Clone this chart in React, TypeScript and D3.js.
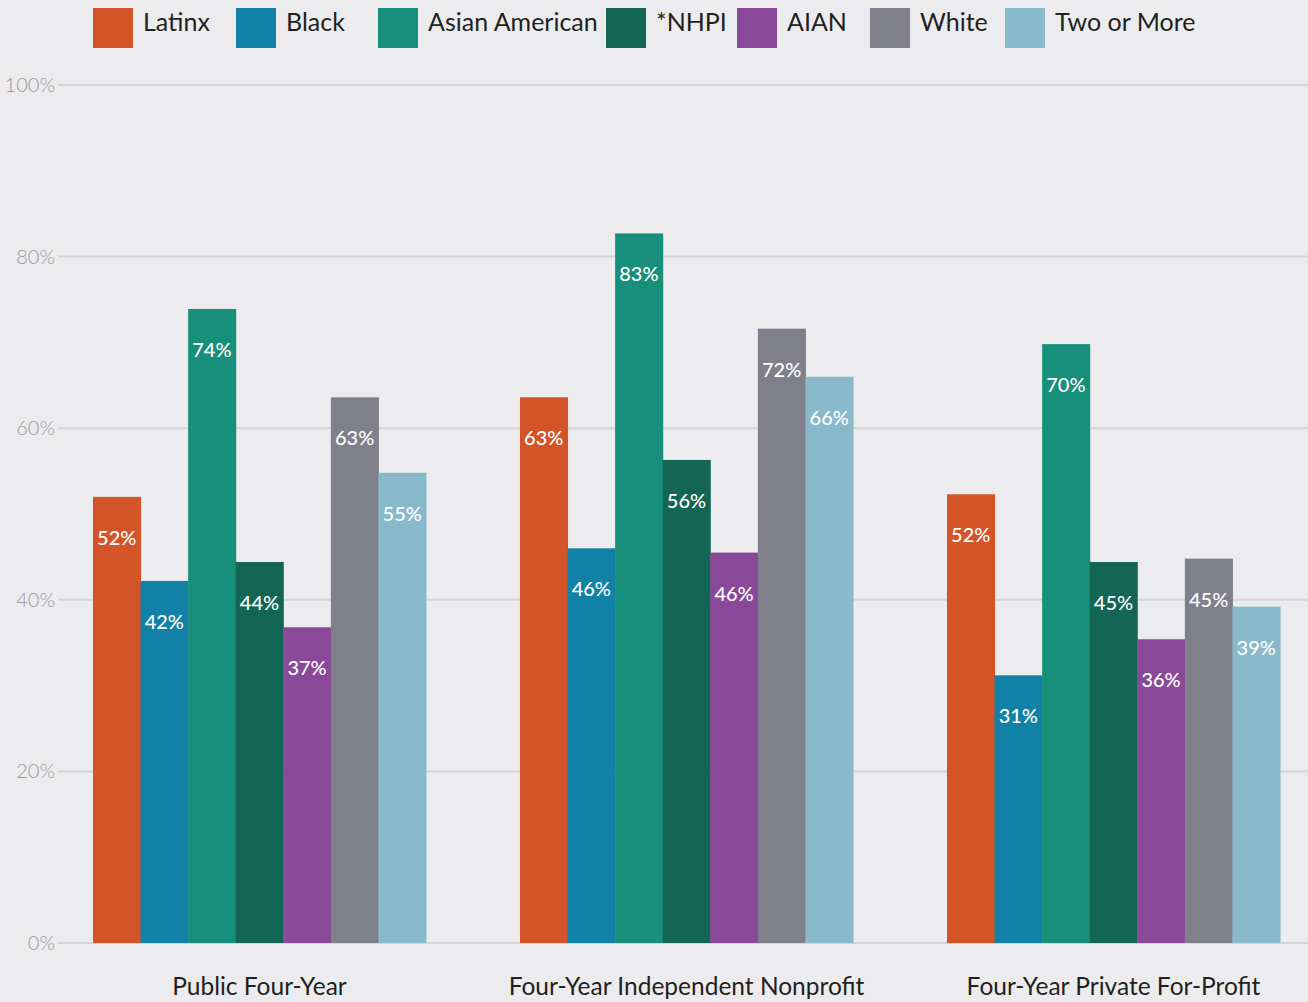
import React from "react";
import * as d3 from "d3";

const categories = ["Public Four-Year", "Four-Year Independent Nonprofit", "Four-Year Private For-Profit"];
const seriesNames = ["Latinx", "Black", "Asian American", "*NHPI", "AIAN", "White", "Two or More"];
const seriesColors = ["#d35428", "#1181a8", "#188f7a", "#136556", "#8a4898", "#7f808b", "#89bacb"];
const latinx = [52.0, 63.6, 52.3];
const black = [42.2, 46.0, 31.2];
const asianAmerican = [73.9, 82.7, 69.8];
const nhpi = [44.4, 56.3, 44.4];
const aian = [36.8, 45.5, 35.4];
const white = [63.6, 71.6, 44.8];
const twoOrMore = [54.8, 66.0, 39.2];
const labels = [
  ["52%", "63%", "52%"],
  ["42%", "46%", "31%"],
  ["74%", "83%", "70%"],
  ["44%", "56%", "45%"],
  ["37%", "46%", "36%"],
  ["63%", "72%", "45%"],
  ["55%", "66%", "39%"],
];
const yTicks = [0, 20, 40, 60, 80, 100];

const series = [latinx, black, asianAmerican, nhpi, aian, white, twoOrMore];

const W = 1308;
const H = 1002;
const legendX = [93, 236, 378, 606, 737, 870, 1005];
const FONT = "Lato, 'Open Sans', sans-serif";

export default function App() {
  const x0 = d3.scaleBand<string>().domain(categories).range([46, 1327]).paddingInner(0.22).paddingOuter(0.11);
  const x1 = d3.scaleBand<string>().domain(seriesNames).range([0, x0.bandwidth()]).padding(0);
  const y = d3.scaleLinear().domain([0, 100]).range([943, 85]);

  return (
    <svg width={W} height={H} style={{ position: "absolute", left: 0, top: 0, display: "block", background: "#ececee" }}>
      <rect x={0} y={0} width={W} height={H} fill="#ececee" />
      {yTicks.map((t) => (
        <g key={t}>
          <line x1={58} x2={W} y1={y(t)} y2={y(t)} stroke="#d4d4d7" strokeWidth={2} />
          <text x={55} y={y(t) + 7} textAnchor="end" fontFamily={FONT} fontWeight={300} fontSize={20} fill="#98989a">
            {t}%
          </text>
        </g>
      ))}
      {categories.map((c, ci) => (
        <g key={c} transform={`translate(${x0(c)},0)`}>
          {seriesNames.map((s, si) => {
            const v = series[si][ci];
            const bx = x1(s)!;
            return (
              <g key={s}>
                <rect x={bx} y={y(v)} width={x1.bandwidth() + 0.5} height={y(0) - y(v)} fill={seriesColors[si]} />
                <text
                  x={bx + x1.bandwidth() / 2}
                  y={y(v) + 48}
                  textAnchor="middle"
                  fontFamily={FONT}
                  fontSize={20}
                  fontWeight={500}
                  fill="#ffffff"
                >
                  {labels[si][ci]}
                </text>
              </g>
            );
          })}
          <text
            x={x0.bandwidth() / 2}
            y={995}
            textAnchor="middle"
            fontFamily={FONT}
            fontSize={24.5}
            fill="#231f20"
          >
            {c}
          </text>
        </g>
      ))}
      {seriesNames.map((s, si) => (
        <g key={s} transform={`translate(${legendX[si]},8)`}>
          <rect x={0} y={0} width={40} height={40} fill={seriesColors[si]} />
          <text x={50} y={23} textAnchor="start" fontFamily={FONT} fontSize={25} fill="#231f20">
            {s}
          </text>
        </g>
      ))}
    </svg>
  );
}
